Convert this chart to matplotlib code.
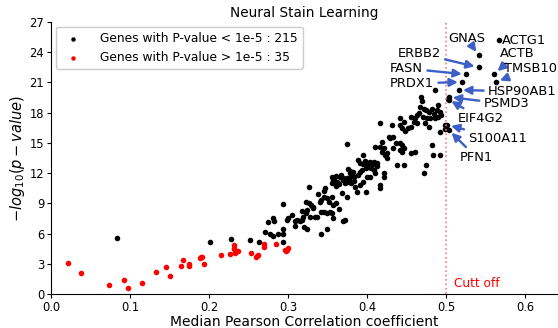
import matplotlib
matplotlib.use('Agg')
import matplotlib.pyplot as plt
import numpy as np

# genes with p < 1e-5 (black) -- median correlation, -log10(p)
preto_x = [
  0.083,
  0.201, 0.228, 0.252, 0.263, 0.275, 0.281, 0.282, 0.271, 0.277, 0.281, 0.287,
  0.376, 0.378, 0.380, 0.382, 0.374, 0.377, 0.380, 0.383, 0.372, 0.370, 0.366,
  0.367, 0.360, 0.355, 0.357, 0.362, 0.364, 0.360, 0.356, 0.368, 0.374, 0.327,
  0.294, 0.347, 0.346, 0.345, 0.341, 0.340, 0.349, 0.355, 0.352, 0.357, 0.361,
  0.364, 0.356, 0.357, 0.372, 0.369, 0.323, 0.326, 0.329, 0.331, 0.324, 0.322,
  0.319, 0.317, 0.315, 0.311, 0.309, 0.300, 0.298, 0.309, 0.320, 0.324, 0.334,
  0.337, 0.328, 0.341, 0.345, 0.349, 0.353, 0.341, 0.349, 0.293, 0.293, 0.294,
  0.332,
  0.416, 0.431, 0.433, 0.429, 0.427, 0.419, 0.410, 0.416, 0.421, 0.419, 0.423,
  0.425, 0.433, 0.375, 0.395, 0.389, 0.391, 0.395, 0.399, 0.404, 0.408, 0.412,
  0.406, 0.402, 0.398, 0.393, 0.408, 0.410, 0.404, 0.400, 0.391, 0.389, 0.383,
  0.385, 0.391, 0.395, 0.416, 0.416, 0.421, 0.387, 0.399, 0.421,
  0.486, 0.468, 0.469, 0.467, 0.472, 0.475, 0.478, 0.482, 0.488, 0.490, 0.492,
  0.494, 0.490, 0.486, 0.480, 0.476, 0.470, 0.463, 0.461, 0.459, 0.463, 0.455,
  0.446, 0.442, 0.441, 0.444, 0.452, 0.456, 0.478, 0.492, 0.499, 0.499, 0.442,
  0.444, 0.446, 0.442, 0.444, 0.455, 0.461, 0.482, 0.483, 0.492, 0.475, 0.446,
  0.438, 0.472,
  0.378, 0.381, 0.372, 0.369, 0.358, 0.363, 0.377, 0.405, 0.401, 0.397, 0.413,
  0.425, 0.436, 0.448, 0.473, 0.484, 0.465, 0.338, 0.318, 0.305,
  0.541, 0.567, 0.541, 0.561, 0.563, 0.525, 0.520, 0.516, 0.503, 0.503, 0.502,
  0.501, 0.503,
]
preto_y = [
  5.53,
  5.2, 5.5, 5.4, 5.2, 7.1, 7.5, 7.25, 6.2, 6.0, 5.8, 6.0,
  12.4, 12.0, 11.75, 12.1, 11.5, 11.15, 11.0, 11.25, 11.0, 11.3, 11.65,
  11.8, 11.7, 11.65, 11.3, 11.15, 10.9, 10.7, 11.05, 10.0, 9.67, 10.6,
  8.94, 10.5, 10.2, 9.67, 9.34, 9.17, 9.5, 9.67, 9.17, 8.84, 9.0,
  8.4, 8.0, 7.5, 7.35, 7.2, 9.17, 9.0, 8.84, 8.67, 8.34, 8.0,
  7.67, 7.35, 7.2, 7.35, 7.2, 7.5, 7.35, 6.75, 6.7, 6.5, 7.67,
  7.6, 7.67, 8.17, 8.17, 8.0, 8.17, 6.0, 6.5, 6.5, 6.0, 5.2,
  8.5,
  16.95, 16.8, 15.6, 15.45, 15.6, 15.1, 14.6, 14.6, 14.5, 14.1, 13.8,
  13.5, 14.5, 14.9, 13.8, 13.3, 13.0, 12.9, 13.1, 13.1, 13.1, 12.96,
  12.8, 12.65, 12.5, 12.3, 12.3, 12.0, 11.65, 11.65, 12.15, 11.8, 11.65,
  10.65, 10.8, 11.15, 10.8, 10.5, 12.0, 10.1, 10.15, 11.65,
  20.26, 19.6, 19.2, 18.6, 18.4, 18.3, 18.1, 18.4, 18.3, 18.8, 18.1,
  17.8, 17.6, 17.45, 17.45, 17.45, 17.6, 17.8, 17.45, 17.1, 16.95, 17.6,
  17.1, 17.45, 16.8, 16.45, 16.45, 16.6, 16.6, 16.1, 16.8, 16.4, 14.96,
  14.8, 14.5, 14.3, 14.1, 14.0, 14.1, 14.8, 13.8, 13.8, 12.8, 12.8,
  12.8, 12.0,
  12.2, 11.9, 11.4, 11.5, 11.5, 11.0, 11.3, 12.5, 12.9, 13.2, 12.7,
  14.0, 15.0, 16.2, 17.0, 17.9, 18.0, 9.9, 8.2, 7.8,
  23.7, 25.2, 22.5, 21.85, 21.05, 21.8, 21.05, 20.26, 19.56, 19.3, 19.36,
  16.8, 16.3,
]

# genes with p > 1e-5 (red)
vermelho_x = [0.021, 0.038, 0.073, 0.092, 0.097, 0.115, 0.133, 0.146, 0.151,
              0.164, 0.167, 0.174, 0.174, 0.188, 0.191, 0.194, 0.215, 0.226,
              0.231, 0.232, 0.233, 0.237, 0.253, 0.259, 0.262, 0.269, 0.269,
              0.285, 0.297, 0.300, 0.298, 0.296, 0.232, 0.190, 0.260]
vermelho_y = [3.05, 2.05, 0.9, 1.36, 0.57, 1.06, 2.15, 2.65, 1.76,
              2.75, 3.38, 2.95, 2.75, 3.58, 3.7, 2.98, 3.87, 3.97,
              4.83, 4.47, 4.04, 4.27, 4.04, 3.7, 3.9, 4.93, 4.7,
              4.93, 4.3, 4.54, 4.4, 4.37, 4.6, 3.65, 3.8]

genes = ['GNAS', 'ACTG1', 'ERBB2', 'ACTB', 'TMSB10', 'FASN', 'PRDX1',
         'HSP90AB1', 'PSMD3', 'EIF4G2', 'S100A11', 'PFN1']
genes_x = [0.541, 0.567, 0.541, 0.561, 0.563, 0.525, 0.520, 0.516, 0.503,
           0.502, 0.501, 0.503]
genes_y = [23.7, 25.2, 22.5, 21.85, 21.05, 21.8, 21.05, 20.26, 19.56,
           19.36, 16.8, 16.3]
texto_x = [0.526, 0.571, 0.466, 0.590, 0.607, 0.450, 0.457, 0.596, 0.576,
           0.543, 0.565, 0.538]
texto_y = [25.4, 25.15, 23.9, 23.9, 22.4, 22.4, 20.9, 20.1, 18.87,
           17.45, 15.46, 13.57]

AZUL = '#3f5fc8'

fig = plt.figure(figsize=(5.58, 3.28), dpi=100)
ax = fig.add_axes([0.0914, 0.1037, 0.9066, 0.829])

ax.scatter(preto_x, preto_y, s=16, c='black', linewidths=0,
           label='Genes with P-value < 1e-5 : 215')
ax.scatter(vermelho_x, vermelho_y, s=16, c='red', linewidths=0,
           label='Genes with P-value > 1e-5 : 35')

ax.axvline(0.5, color='#f08080', linestyle=':', linewidth=1.2)
ax.text(0.51, 1.06, 'Cutt off', color='red', fontsize=8.7, va='center')

for g, px, py, tx, ty in zip(genes, genes_x, genes_y, texto_x, texto_y):
  if g == 'ACTG1':
    # label sits right next to its point, no visible arrow
    ax.annotate(g, xy=(px, py), xytext=(tx, ty), fontsize=9.4,
                ha='left', va='center')
    continue
  ax.annotate(g, xy=(px, py), xytext=(tx, ty), fontsize=9.4,
              ha='center', va='center',
              arrowprops=dict(arrowstyle='-|>', color=AZUL, lw=1.7,
                              mutation_scale=12, shrinkA=1, shrinkB=3))

ax.set_xlim(0, 0.64)
ax.set_ylim(0, 27)
ax.set_yticks(np.arange(0, 28, 3))
ax.set_xticks([0.0, 0.1, 0.2, 0.3, 0.4, 0.5, 0.6])
ax.tick_params(labelsize=8.3, length=3, pad=2)
ax.spines['top'].set_visible(False)
ax.spines['right'].set_visible(False)

ax.set_title('Neural Stain Learning', fontsize=9.8, pad=4)
ax.set_xlabel('Median Pearson Correlation coefficient', fontsize=10, labelpad=1)
ax.set_ylabel('$-log_{10}(p-value)$', fontsize=10.5, labelpad=2)

ax.legend(loc='upper left', fontsize=8.8, markerscale=0.8, handletextpad=1.2,
          borderaxespad=0.4, framealpha=1)

plt.savefig('out.png', dpi=100)
